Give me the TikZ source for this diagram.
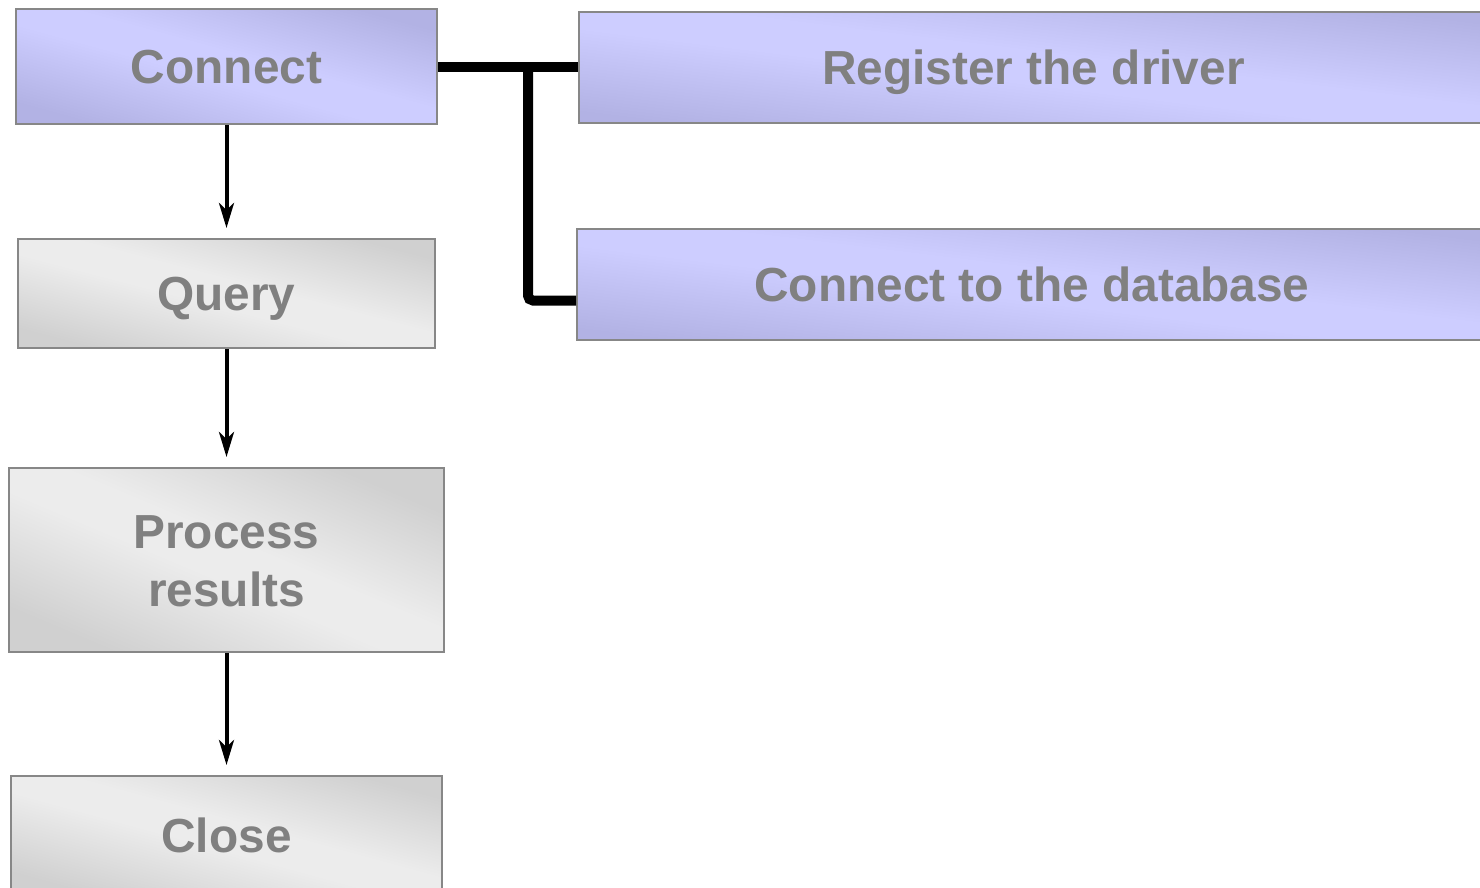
\documentclass[tikz,border=0pt]{standalone}
\usepackage{fontspec}
\setmainfont{Liberation Sans}
\usetikzlibrary{arrows.meta}

\definecolor{lavL}{RGB}{205,205,255}
\definecolor{lavD}{RGB}{178,178,228}
\definecolor{grayL}{RGB}{236,236,236}
\definecolor{grayD}{RGB}{208,208,208}
\definecolor{txt}{RGB}{128,128,128}
\definecolor{edge}{RGB}{135,135,135}

% diagonal sheen: dark corners, light band across the middle
\pgfdeclareverticalshading{lavshade}{100bp}{color(0bp)=(lavD); color(25bp)=(lavD); color(46bp)=(lavL); color(54bp)=(lavL); color(75bp)=(lavD); color(100bp)=(lavD)}
\pgfdeclareverticalshading{grayshade}{100bp}{color(0bp)=(grayD); color(25bp)=(grayD); color(46bp)=(grayL); color(54bp)=(grayL); color(75bp)=(grayD); color(100bp)=(grayD)}

\tikzset{
  box/.style={draw=edge, line width=2pt, inner sep=0pt,
    text height=34pt, text depth=0pt, text=txt,
    font=\fontsize{47.8pt}{58pt}\selectfont\bfseries},
  lav/.style={box, shading=lavshade, shading angle=#1},
  gry/.style={box, shading=grayshade, shading angle=#1},
  arr/.style={line width=4pt, -{Stealth[length=25pt,width=15pt,inset=7pt]}, shorten >=10pt},
  bus/.style={line width=10pt}
}

\begin{document}
\begin{tikzpicture}[x=1pt, y=-1pt]
  \useasboundingbox (0,0) rectangle (1480,887);
  \clip (0,0) rectangle (1480,887);

  % main steps
  \node[lav=-15.3, minimum width=421pt, minimum height=115pt] (conn) at (226.5,66.5) {Connect};
  \node[gry=-14.6, minimum width=417pt, minimum height=109pt] (query) at (226.5,293.5) {Query};
  \node[gry=-22.9, minimum width=435pt, minimum height=184pt, text height=92pt] (proc) at (226.5,560)
    {\parbox[b]{400pt}{\centering Process\\results}};
  \node[gry=-15.3, minimum width=431pt, minimum height=118pt] (close) at (226.5,835) {Close};

  % sub-steps of connecting
  \node[lav=-7, minimum width=909pt, minimum height=111pt] (reg) at (1033.5,67.5) {Register the driver};
  \node[lav=-7, minimum width=910pt, minimum height=111pt] (db) at (1032,284.5) {Connect to the database};

  % flow
  \draw[arr] (conn) -- (query);
  \draw[arr] (query) -- (proc);
  \draw[arr] (proc) -- (close);

  % bracket to the sub-steps
  \coordinate (jn) at (528,66.5);
  \coordinate (jb) at (528,300.5);
  \draw[bus] (conn.east) -- (conn.east -| reg.west);
  \draw[bus, rounded corners=5pt] (jn) -- (jb) -- (jb -| db.west);
\end{tikzpicture}
\end{document}
